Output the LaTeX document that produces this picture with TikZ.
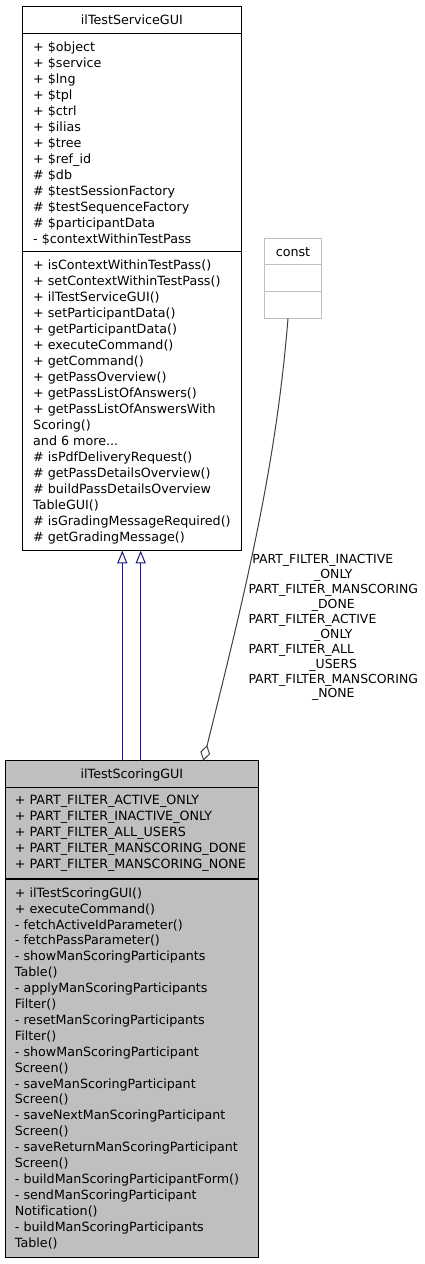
\documentclass[tikz,border=0pt]{standalone}
\usepackage{fontspec}
\setmainfont{DejaVu Sans}[Ligatures={NoCommon}]
\usetikzlibrary{arrows.meta}
\definecolor{edgeblue}{HTML}{191970}
\definecolor{grey75}{HTML}{BFBFBF}
\definecolor{grey25}{HTML}{404040}
\newcommand{\sixmore}{and 6 more...}
\begin{document}
\begin{tikzpicture}[x=1pt,y=-1pt,
  classbox/.style={draw=black, line width=1pt, anchor=north west, inner sep=0pt, outer sep=0pt},
  sepline/.style={draw=black, line width=1.4pt},
  member/.style={anchor=base west, inner sep=0pt, font=\fontsize{12.7}{16}\selectfont},
  titletext/.style={anchor=base, inner sep=0pt, font=\fontsize{12.7}{16}\selectfont},
  lbl/.style={inner sep=0pt, font=\fontsize{12.45}{15}\selectfont},
  inh/.style={draw=edgeblue, line width=1pt, -{Triangle[open, length=12.6pt, width=10pt]}},
  agg/.style={draw=grey25, line width=1pt, {Diamond[open, length=16pt, width=10pt]}-}
]
\useasboundingbox (0,0) rectangle (425,1264);
\fill[white] (0,0) rectangle (425,1264);

% ---------------- ilTestServiceGUI ----------------
\node[classbox, fill=white, minimum width=218.3pt, minimum height=544pt] (svc) at (22.7,6.7) {};
\draw[sepline] (22.7,33.3) -- (241,33.3);
\draw[sepline] (22.7,251.7) -- (241,251.7);
\node[titletext] (svctitle) at (131.9,24.5) {ilTestServiceGUI};
\foreach \t [count=\i from 0] in {
  + \$object, + \$service, + \$lng, + \$tpl, + \$ctrl, + \$ilias, + \$tree,
  + \$ref\_id, \# \$db, \# \$testSessionFactory, \# \$testSequenceFactory,
  \# \$participantData, - \$contextWithinTestPass}
  \node[member] (sa\i) at ({33},{51.2+16*\i}) {\t};
\foreach \t [count=\i from 0] in {
  + isContextWithinTestPass(), + setContextWithinTestPass(), + ilTestServiceGUI(),
  + setParticipantData(), + getParticipantData(), + executeCommand(),
  + getCommand(), + getPassOverview(), + getPassListOfAnswers(),
  + getPassListOfAnswersWith, Scoring(), \sixmore, \# isPdfDeliveryRequest(),
  \# getPassDetailsOverview(), \# buildPassDetailsOverview, TableGUI(),
  \# isGradingMessageRequired(), \# getGradingMessage()}
  \node[member] (sm\i) at ({33},{269.5+16*\i}) {\t};

% ---------------- const ----------------
\node[classbox, draw=grey75, fill=white, minimum width=57.4pt, minimum height=80pt] (const) at (264.3,238.3) {};
\draw[draw=grey75, line width=1pt] (264.3,264.7) -- (321.7,264.7);
\draw[draw=grey75, line width=1pt] (264.3,291.7) -- (321.7,291.7);
\node[titletext] (consttitle) at (293,256) {const};

% ---------------- ilTestScoringGUI ----------------
\node[classbox, fill=grey75, minimum width=253.7pt, minimum height=496.6pt] (scoring) at (5,760.7) {};
\draw[sepline] (5,787.7) -- (258.7,787.7);
\draw[sepline] (5,878.8) -- (258.7,878.8);
\node[titletext] (scoringtitle) at (131.9,778.5) {ilTestScoringGUI};
\foreach \t [count=\i from 0] in {
  + PART\_FILTER\_ACTIVE\_ONLY, + PART\_FILTER\_INACTIVE\_ONLY, + PART\_FILTER\_ALL\_USERS,
  + PART\_FILTER\_MANSCORING\_DONE, + PART\_FILTER\_MANSCORING\_NONE}
  \node[member] (ba\i) at ({14.7},{804.5+16.1*\i}) {\t};
\foreach \t [count=\i from 0] in {
  + ilTestScoringGUI(), + executeCommand(), - fetchActiveIdParameter(),
  - fetchPassParameter(), - showManScoringParticipants, Table(),
  - applyManScoringParticipants, Filter(), - resetManScoringParticipants, Filter(),
  - showManScoringParticipant, Screen(), - saveManScoringParticipant, Screen(),
  - saveNextManScoringParticipant, Screen(), - saveReturnManScoringParticipant, Screen(),
  - buildManScoringParticipantForm(), - sendManScoringParticipant, Notification(),
  - buildManScoringParticipants, Table()}
  \node[member] (bm\i) at ({14.7},{897.2+15.9*\i}) {\t};

% ---------------- inheritance ----------------
\coordinate (ia) at (122.3,0);
\coordinate (ib) at (140.7,0);
\draw[inh] (scoring.north -| ia) -- (svc.south -| ia);
\draw[inh] (scoring.north -| ib) -- (svc.south -| ib);

% ---------------- aggregation (const) ----------------
\coordinate (dtip) at (203.3,0);
\coordinate (cfoot) at (288,0);
\draw[agg] (scoring.north -| dtip) .. controls (244.5,595) and (276,468) .. (const.south -| cfoot);

% labels
\node[lbl, anchor=base west] (l1) at (252.2,563.8) {PART\_FILTER\_INACTIVE};
\node[lbl, anchor=base] (l2) at (333.3,578.5) {\_ONLY};
\node[lbl, anchor=base west] (l3) at (248.3,593.6) {PART\_FILTER\_MANSCORING};
\node[lbl, anchor=base] (l4) at (333.3,608.5) {\_DONE};
\node[lbl, anchor=base west] (l5) at (248.3,623.4) {PART\_FILTER\_ACTIVE};
\node[lbl, anchor=base] (l6) at (333.3,638.3) {\_ONLY};
\node[lbl, anchor=base west] (l7) at (248.3,653.2) {PART\_FILTER\_ALL};
\node[lbl, anchor=base] (l8) at (333.3,668.1) {\_USERS};
\node[lbl, anchor=base west] (l9) at (248.3,683) {PART\_FILTER\_MANSCORING};
\node[lbl, anchor=base] (l10) at (333.3,697.9) {\_NONE};
\end{tikzpicture}
\end{document}
